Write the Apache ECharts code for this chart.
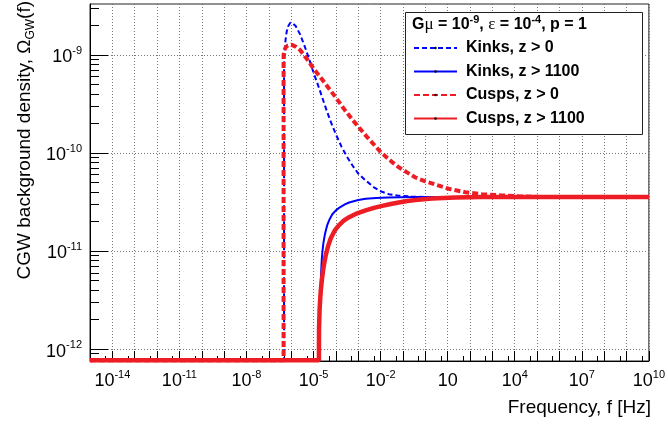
<!DOCTYPE html>
<html><head><meta charset="utf-8">
<script src="https://cdn.jsdelivr.net/npm/echarts@6/dist/echarts.min.js"></script>
<style>html,body{margin:0;padding:0;background:#fff}#c{width:668px;height:426px}</style>
</head><body><div id="c"></div>
<script>
// All values are log10: logF = log10(f / Hz), logO = log10(Omega_GW)
const FLOOR = -12.115; // curves below the plotted range sit on the floor

const kinksAllLogF = [-15, -6.32, -6.32, -6.29, -6.25, -6.2, -6.14, -6.04, -5.92, -5.8, -5.6, -5.4, -5.2, -5.0, -4.75, -4.5, -4.25, -4.0, -3.75, -3.5, -3.25, -3.0, -2.67, -2.3, -2.0, -1.63, -1.19, -0.6, 0.2, 10];
const kinksAllLogO = [FLOOR, FLOOR, -9.12, -8.96, -8.84, -8.76, -8.71, -8.67, -8.68, -8.705, -8.79, -8.91, -9.04, -9.18, -9.34, -9.51, -9.67, -9.81, -9.935, -10.04, -10.13, -10.21, -10.28, -10.35, -10.39, -10.42, -10.435, -10.445, -10.45, -10.45];

const kinksLateLogF = [-15, -4.73, -4.725, -4.70, -4.675, -4.65, -4.63, -4.60, -4.56, -4.50, -4.44, -4.38, -4.28, -4.16, -4.0, -3.86, -3.6, -3.41, -3.0, -2.67, -2.2, -1.68, -0.5, 10];
const kinksLateLogO = [FLOOR, FLOOR, -11.6, -11.45, -11.30, -11.17, -11.08, -11.0, -10.92, -10.84, -10.78, -10.73, -10.675, -10.625, -10.585, -10.56, -10.525, -10.505, -10.48, -10.467, -10.46, -10.455, -10.45, -10.45];

const cuspsAllLogF = [-15, -6.34, -6.34, -6.3, -6.24, -6.15, -6.0, -5.8, -5.6, -5.4, -5.2, -5.0, -4.75, -4.5, -4.25, -4.0, -3.64, -3.19, -2.67, -2.0, -1.5, -1.19, -0.8, -0.44, 0.0, 0.3, 1.04, 1.79, 2.53, 3.35, 4.17, 5.3, 10];
const cuspsAllLogO = [FLOOR, FLOOR, -9.0, -8.95, -8.92, -8.903, -8.895, -8.915, -8.95, -9.01, -9.07, -9.14, -9.21, -9.285, -9.36, -9.435, -9.55, -9.68, -9.82, -9.99, -10.09, -10.145, -10.2, -10.25, -10.29, -10.31, -10.365, -10.40, -10.42, -10.432, -10.442, -10.45, -10.45];

const cuspsLateLogF = [-15, -4.76, -4.755, -4.73, -4.70, -4.675, -4.62, -4.57, -4.51, -4.45, -4.35, -4.23, -4.05, -3.86, -3.65, -3.41, -3.05, -2.67, -2.3, -1.93, -1.55, -1.19, -0.8, -0.44, 0.3, 1.34, 2.5, 10];
const cuspsLateLogO = [FLOOR, FLOOR, -11.8, -11.6, -11.48, -11.40, -11.28, -11.19, -11.11, -11.04, -10.95, -10.87, -10.79, -10.735, -10.69, -10.655, -10.615, -10.585, -10.56, -10.54, -10.52, -10.505, -10.49, -10.48, -10.465, -10.455, -10.45, -10.45];

const seriesNames = ['Kinks, z > 0', 'Kinks, z > 1100', 'Cusps, z > 0', 'Cusps, z > 1100'];

// axes (log10 units)
const xMin = -15, xMax = 10;
const yMin = -12.122, yMax = -8.48;
const xMajorTicks = [-15,-14,-13,-12,-11,-10,-9,-8,-7,-6,-5,-4,-3,-2,-1,0,1,2,3,4,5,6,7,8,9,10];
const xLabelTicks = [-14, -11, -8, -5, -2, 1, 4, 7, 10];
const yMajorTicks = [-12, -11, -10, -9];
const yLabelTicks = [-12, -11, -10, -9];
const xMinorMultiplier = 5;
const yMinorMultipliers = [2, 3, 4, 5, 6, 7, 8, 9];

const xMinorTicks = xMajorTicks.slice(0, -1).map(n => n + Math.log10(xMinorMultiplier));
const yMinorTicks = [];
for (let n = -13; n <= -9; n++) {
  yMinorMultipliers.forEach(k => {
    const v = n + Math.log10(k);
    if (v > yMin && v < yMax) yMinorTicks.push(v);
  });
}

const FONT = '"Liberation Sans", Arial, Helvetica, sans-serif';
const zip = (a, b) => a.map((v, i) => [v, b[i]]);

const labelRich = {
  b: { fontFamily: FONT, fontSize: 18, lineHeight: 24, color: '#000' },
  s: { fontFamily: FONT, fontSize: 11, lineHeight: 11, verticalAlign: 'top', color: '#000' }
};
const powLabel = v => {
  const n = Math.round(v);
  return n === 1 ? '{b|10}' : '{b|10}{s|' + n + '}';
};

const BLUE = '#0000ff', RED = '#ee1c24';

const chart = echarts.init(document.getElementById('c'), null, { renderer: 'canvas' });
chart.setOption({
  animation: false,
  backgroundColor: '#fff',
  grid: { left: 90, right: 17, top: 4, bottom: 65, show: true, borderColor: '#222', borderWidth: 1, backgroundColor: 'transparent' },
  xAxis: [
    {
      type: 'value', min: xMin, max: xMax, position: 'bottom',
      axisLine: { show: true, onZero: false, lineStyle: { color: '#000', width: 1 } },
      axisTick: { show: true, inside: true, length: 10, customValues: xMajorTicks, lineStyle: { color: '#000', width: 1 } },
      axisLabel: { show: true, customValues: xLabelTicks, margin: 8, formatter: powLabel, rich: labelRich },
      splitLine: { show: true, lineStyle: { color: '#777', width: 1, type: [1, 2] } }
    },
    {
      type: 'value', min: xMin, max: xMax, position: 'bottom',
      axisLine: { show: false, onZero: false },
      axisTick: { show: true, inside: true, length: 5, customValues: xMinorTicks, lineStyle: { color: '#000', width: 1 } },
      axisLabel: { show: false },
      splitLine: { show: false }
    }
  ],
  yAxis: [
    {
      type: 'value', min: yMin, max: yMax, position: 'left',
      axisLine: { show: true, onZero: false, lineStyle: { color: '#000', width: 1 } },
      axisTick: { show: true, inside: true, length: 18, customValues: yMajorTicks, lineStyle: { color: '#000', width: 1 } },
      axisLabel: { show: true, customValues: yLabelTicks, margin: 8, padding: [5, 0, 0, 0], formatter: powLabel, rich: labelRich },
      splitLine: { show: true, lineStyle: { color: '#777', width: 1, type: [1, 2] } }
    },
    {
      type: 'value', min: yMin, max: yMax, position: 'left',
      axisLine: { show: false, onZero: false },
      axisTick: { show: true, inside: true, length: 9, customValues: yMinorTicks, lineStyle: { color: '#000', width: 1 } },
      axisLabel: { show: false },
      splitLine: { show: false }
    }
  ],
  legend: {
    orient: 'vertical', left: 413, top: 39.5, padding: 0,
    itemWidth: 43, itemHeight: 3, itemGap: 6.5,
    itemStyle: { color: '#000', borderWidth: 0 },
    textStyle: { fontFamily: FONT, fontSize: 16, fontWeight: 'bold', color: '#000', lineHeight: 17, padding: [0, 0, 0, 4] },
    data: seriesNames
  },
  graphic: [
    { type: 'rect', z: 3, shape: { x: 405.5, y: 12.5, width: 237, height: 122 }, style: { fill: '#fff', stroke: '#222', lineWidth: 1 } },
    { type: 'text', z: 5, x: 412, y: 25, style: {
        text: '{b|G}{g|μ}{b| = 10}{s|-9}{b|, }{g|ε}{b| = 10}{s|-4}{b|, p = 1}',
        textVerticalAlign: 'middle', textAlign: 'left',
        rich: {
          b: { fontFamily: FONT, fontSize: 16, fontWeight: 'bold', lineHeight: 22, fill: '#000' },
          g: { fontFamily: '"Liberation Serif", serif', fontSize: 17, lineHeight: 22, fill: '#000' },
          s: { fontFamily: FONT, fontSize: 11, fontWeight: 'bold', lineHeight: 11, verticalAlign: 'top', fill: '#000' }
        }
    } },
    { type: 'text', z: 5, x: 25, y: 1, rotation: Math.PI / 2, style: {
        text: '{b|CGW background density, Ω}{u|GW}{b|(f)}',
        textAlign: 'right', textVerticalAlign: 'middle',
        rich: {
          b: { fontFamily: FONT, fontSize: 19, lineHeight: 24, fill: '#000' },
          u: { fontFamily: FONT, fontSize: 12, lineHeight: 12, verticalAlign: 'bottom', fill: '#000' }
        }
    } },
    { type: 'text', z: 5, x: 651, y: 408, style: {
        text: 'Frequency, f [Hz]', textAlign: 'right', textVerticalAlign: 'middle',
        fontFamily: FONT, fontSize: 19, fill: '#000'
    } }
  ],
  series: [
    { name: seriesNames[0], type: 'line', xAxisIndex: 0, yAxisIndex: 0, data: zip(kinksAllLogF, kinksAllLogO), symbol: 'none', z: 6,
      lineStyle: { color: BLUE, width: 2, type: [5, 3] }, itemStyle: { color: BLUE } },
    { name: seriesNames[1], type: 'line', xAxisIndex: 0, yAxisIndex: 0, data: zip(kinksLateLogF, kinksLateLogO), symbol: 'none', z: 6,
      lineStyle: { color: BLUE, width: 2 }, itemStyle: { color: BLUE } },
    { name: seriesNames[2], type: 'line', xAxisIndex: 0, yAxisIndex: 0, data: zip(cuspsAllLogF, cuspsAllLogO), symbol: 'none', z: 6,
      lineStyle: { color: RED, width: 4, type: [6, 3] }, itemStyle: { color: RED } },
    { name: seriesNames[3], type: 'line', xAxisIndex: 0, yAxisIndex: 0, data: zip(cuspsLateLogF, cuspsLateLogO), symbol: 'none', z: 6,
      lineStyle: { color: RED, width: 4.5 }, itemStyle: { color: RED } }
  ]
});
</script></body></html>
